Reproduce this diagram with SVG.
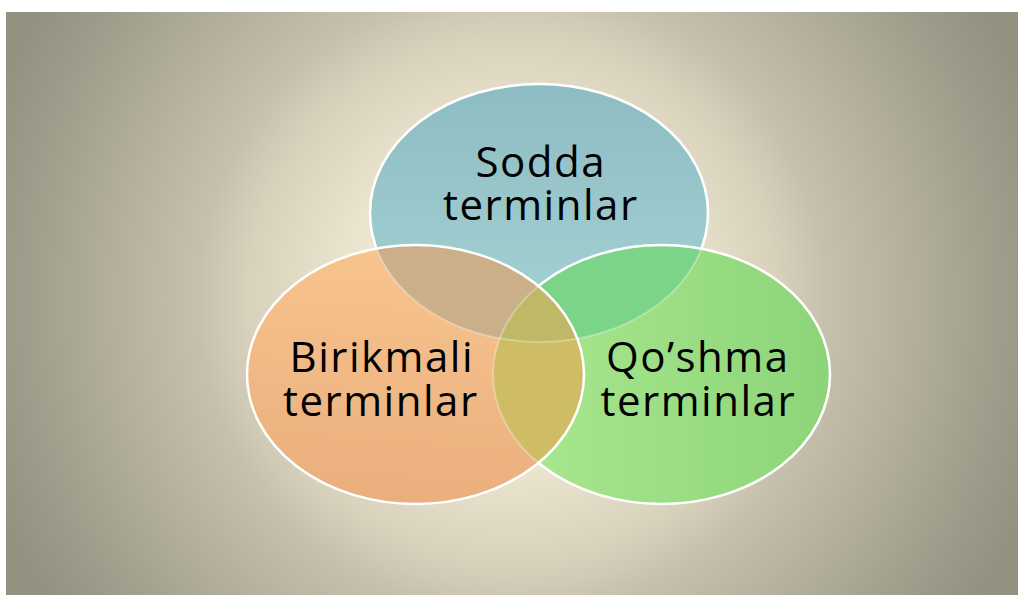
<svg xmlns="http://www.w3.org/2000/svg" width="1018" height="595" viewBox="0 0 1018 595">
<defs>
  <radialGradient id="bg" gradientUnits="userSpaceOnUse" cx="512" cy="300" r="560">
    <stop offset="0" stop-color="#f4eedb"/>
    <stop offset="0.3" stop-color="#ebe4cf"/>
    <stop offset="0.47" stop-color="#d8d2bd"/>
    <stop offset="0.56" stop-color="#c6c1ad"/>
    <stop offset="0.9" stop-color="#9c9a88"/>
    <stop offset="1" stop-color="#92907e"/>
  </radialGradient>
  <linearGradient id="gTop" x1="0" y1="0" x2="0" y2="1">
    <stop offset="0" stop-color="#8dbcc3"/>
    <stop offset="1" stop-color="#a6d3d4"/>
  </linearGradient>
  <linearGradient id="gLeft" x1="0.3" y1="0" x2="0.2" y2="1">
    <stop offset="0" stop-color="#f8c48e"/>
    <stop offset="1" stop-color="#e9ae7c"/>
  </linearGradient>
  <linearGradient id="gRight" x1="0" y1="0" x2="1" y2="0">
    <stop offset="0" stop-color="#abe990"/>
    <stop offset="1" stop-color="#8dd479"/>
  </linearGradient>
  <clipPath id="inTop"><ellipse cx="539" cy="213" rx="169" ry="129"/></clipPath>
  <clipPath id="inLeft"><ellipse cx="415.5" cy="374.5" rx="168.5" ry="129.5"/></clipPath>
  <clipPath id="inRight"><ellipse cx="661.5" cy="374.5" rx="168.5" ry="129.5"/></clipPath>
  <clipPath id="outLeft"><path clip-rule="evenodd" d="M0 0H1018V595H0Z M247 374.5a168.5 129.5 0 1 0 337 0a168.5 129.5 0 1 0 -337 0Z"/></clipPath>
  <clipPath id="outRight"><path clip-rule="evenodd" d="M0 0H1018V595H0Z M493 374.5a168.5 129.5 0 1 0 337 0a168.5 129.5 0 1 0 -337 0Z"/></clipPath>
</defs>
<style>
  .lbl { font-family: "Open Sans", "Noto Sans", "DejaVu Sans", sans-serif; font-size: 42px; letter-spacing: 1.5px; fill: #000; text-anchor: middle; }
  .ring { fill: none; stroke: #ffffff; stroke-width: 2.5; }
  .faint { fill: none; stroke: #ffffff; stroke-width: 2; opacity: 0.3; }
</style>
<rect x="6" y="12" width="1012" height="583" fill="url(#bg)"/>

<g id="fills">
  <ellipse cx="539" cy="213" rx="169" ry="129" fill="url(#gTop)"/>
  <ellipse cx="661.5" cy="374.5" rx="168.5" ry="129.5" fill="url(#gRight)"/>
  <ellipse cx="415.5" cy="374.5" rx="168.5" ry="129.5" fill="url(#gLeft)"/>
  <g clip-path="url(#inTop)">
    <ellipse cx="415.5" cy="374.5" rx="168.5" ry="129.5" fill="#cbaf88"/>
    <ellipse cx="661.5" cy="374.5" rx="168.5" ry="129.5" fill="#7bd488"/>
  </g>
  <g clip-path="url(#inLeft)">
    <ellipse cx="661.5" cy="374.5" rx="168.5" ry="129.5" fill="#cfbd66"/>
    <g clip-path="url(#inTop)">
      <ellipse cx="661.5" cy="374.5" rx="168.5" ry="129.5" fill="#bfb867"/>
    </g>
  </g>
</g>

<g id="outlines">
  <ellipse class="faint" cx="539" cy="213" rx="169" ry="129"/>
  <ellipse class="faint" cx="661.5" cy="374.5" rx="168.5" ry="129.5"/>
  <g clip-path="url(#outLeft)">
    <g clip-path="url(#outRight)">
      <ellipse class="ring" cx="539" cy="213" rx="169" ry="129"/>
    </g>
    <ellipse class="ring" cx="661.5" cy="374.5" rx="168.5" ry="129.5"/>
  </g>
  <ellipse class="ring" cx="415.5" cy="374.5" rx="168.5" ry="129.5"/>
</g>

<g id="node-sodda">
  <text class="lbl" x="540.8" y="177">Sodda</text>
  <text class="lbl" x="540.8" y="220">terminlar</text>
</g>
<g id="node-birikmali">
  <text class="lbl" x="381.8" y="372">Birikmali</text>
  <text class="lbl" x="380.8" y="416">terminlar</text>
</g>
<g id="node-qoshma">
  <text class="lbl" x="697.8" y="372">Qo’shma</text>
  <text class="lbl" x="698.3" y="416">terminlar</text>
</g>
</svg>
